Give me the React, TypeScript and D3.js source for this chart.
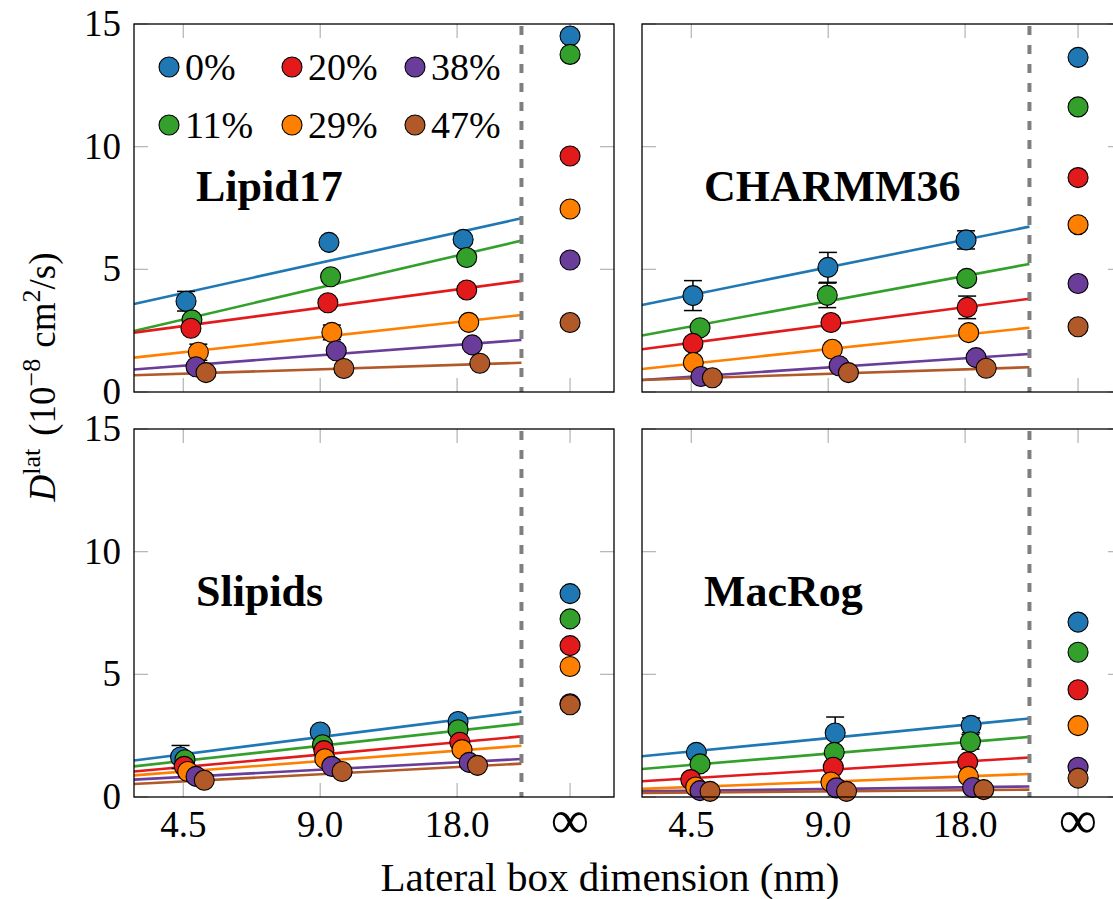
import React from 'react';
import * as d3 from 'd3';

// Cholesterol concentrations and their colours
const SERIES = ['0%', '11%', '20%', '29%', '38%', '47%'];
const COLORS = ['#1f78b4', '#33a02c', '#e31a1c', '#ff7f00', '#6a3d9a', '#b15928'];

// Box-size categories (position index on the x axis)
const BOX_LABELS = ['4.5', '9.0', '18.0', '\u221E'];
const BOX_POS = [1, 2, 3, 3.825];
const X_MIN = 0.64;
const X_MAX = 4.146;
const X_CUT = 3.47; // separator between finite boxes and the extrapolated value
const Y_TICKS = [0, 5, 10, 15];

// ---- Lipid17 ----
const lipid17X = [
  [1.02, 2.064, 3.044], [1.063, 2.076, 3.07], [1.056, 2.056, 3.07],
  [1.11, 2.085, 3.085], [1.093, 2.117, 3.11], [1.166, 2.173, 3.166],
];
const lipid17Y = [
  [3.7, 6.1, 6.22], [2.94, 4.7, 5.48], [2.6, 3.64, 4.16],
  [1.62, 2.43, 2.84], [1.03, 1.68, 1.92], [0.79, 0.96, 1.17],
];
const lipid17Err = [
  [0.4, 0, 0], [0, 0, 0], [0, 0, 0], [0.33, 0.3, 0], [0, 0, 0], [0, 0, 0],
];
const lipid17Inf = [14.51, 13.76, 9.62, 7.46, 5.38, 2.83];
const lipid17FitL = [3.59, 2.49, 2.42, 1.4, 0.92, 0.68];
const lipid17FitR = [7.08, 6.17, 4.53, 3.14, 2.12, 1.19];

// ---- CHARMM36 ----
const charmmX = [
  [1.012, 1.998, 3.007], [1.064, 1.993, 3.012], [1.012, 2.02, 3.015],
  [1.015, 2.03, 3.026], [1.07, 2.08, 3.08], [1.154, 2.148, 3.154],
];
const charmmY = [
  [3.93, 5.08, 6.2], [2.62, 3.94, 4.63], [1.98, 2.83, 3.45],
  [1.2, 1.74, 2.42], [0.63, 1.07, 1.4], [0.58, 0.79, 0.97],
];
const charmmErr = [
  [0.61, 0.61, 0.37], [0, 0.5, 0], [0, 0, 0.46], [0, 0, 0], [0, 0, 0], [0, 0, 0],
];
const charmmInf = [13.64, 11.62, 8.74, 6.82, 4.42, 2.66];
const charmmFitL = [3.55, 2.3, 1.74, 0.94, 0.49, 0.49];
const charmmFitR = [6.74, 5.22, 3.8, 2.62, 1.55, 1.01];

// ---- Slipids ----
const slipidsX = [
  [0.98, 2.0, 3.007], [1.012, 2.017, 3.007], [1.007, 2.027, 3.02],
  [1.032, 2.034, 3.036], [1.093, 2.085, 3.088], [1.153, 2.16, 3.149],
];
const slipidsY = [
  [1.63, 2.65, 3.08], [1.52, 2.13, 2.74], [1.25, 1.89, 2.23],
  [1.04, 1.56, 1.93], [0.84, 1.25, 1.41], [0.68, 1.04, 1.29],
];
const slipidsErr = [
  [0.47, 0, 0], [0, 0, 0], [0, 0, 0], [0, 0, 0], [0, 0, 0], [0, 0, 0],
];
const slipidsInf = [8.29, 7.26, 6.17, 5.32, 3.8, 3.76];
const slipidsFitL = [1.49, 1.25, 1.04, 0.88, 0.71, 0.53];
const slipidsFitR = [3.48, 2.99, 2.47, 2.09, 1.55, 1.36];

// ---- MacRog ----
const macrogX = [
  [1.037, 2.051, 3.044], [1.064, 2.044, 3.039], [0.996, 2.037, 3.019],
  [1.032, 2.02, 3.024], [1.064, 2.06, 3.055], [1.137, 2.134, 3.136],
];
const macrogY = [
  [1.82, 2.61, 2.92], [1.35, 1.82, 2.25], [0.71, 1.21, 1.43],
  [0.41, 0.61, 0.84], [0.26, 0.37, 0.39], [0.23, 0.23, 0.3],
];
const macrogErr = [
  [0, 0.65, 0.3], [0, 0, 0.3], [0, 0, 0], [0, 0, 0], [0, 0, 0], [0, 0, 0],
];
const macrogInf = [7.13, 5.9, 4.37, 2.91, 1.21, 0.77];
const macrogFitL = [1.66, 1.14, 0.64, 0.33, 0.23, 0.16];
const macrogFitR = [3.2, 2.45, 1.61, 0.94, 0.43, 0.3];

const SERIF = 'Liberation Serif';
const PW = 480;
const PH = 368;
const R = 10;

type PanelProps = {
  title: string;
  left: number;
  top: number;
  xs: number[][];
  ys: number[][];
  errs: number[][];
  inf: number[];
  fitL: number[];
  fitR: number[];
  legend?: boolean;
  yLabels?: boolean;
  xLabels?: boolean;
};

function Panel(p: PanelProps) {
  const x = d3.scaleLinear().domain([X_MIN, X_MAX]).range([p.left, p.left + PW]);
  const y = d3.scaleLinear().domain([0, 15]).range([p.top + PH, p.top]);
  const line = d3.line<[number, number]>().x((d) => x(d[0])).y((d) => y(d[1]));
  const tickCol = '#b3b3b3';
  const TL = 14;

  return (
    <g>
      {/* inward ticks */}
      {BOX_POS.map((b, i) => (
        <g key={'xt' + i} stroke={tickCol} strokeWidth={1.2}>
          <line x1={x(b)} x2={x(b)} y1={p.top} y2={p.top + TL} />
          <line x1={x(b)} x2={x(b)} y1={p.top + PH} y2={p.top + PH - TL} />
        </g>
      ))}
      {Y_TICKS.map((t, i) => (
        <g key={'yt' + i} stroke={tickCol} strokeWidth={1.2}>
          <line x1={p.left} x2={p.left + TL} y1={y(t)} y2={y(t)} />
          <line x1={p.left + PW} x2={p.left + PW - TL} y1={y(t)} y2={y(t)} />
        </g>
      ))}

      {/* fit lines */}
      {SERIES.map((s, i) => (
        <path
          key={'fit' + s}
          d={line([[X_MIN, p.fitL[i]], [X_CUT, p.fitR[i]]]) || ''}
          stroke={COLORS[i]}
          strokeWidth={2.6}
          fill="none"
        />
      ))}

      {/* separator */}
      <line
        x1={x(X_CUT)}
        x2={x(X_CUT)}
        y1={p.top + 2}
        y2={p.top + PH}
        stroke="#7f7f7f"
        strokeWidth={4}
        strokeDasharray="9,10"
      />

      {/* points with error bars */}
      {SERIES.map((s, i) => (
        <g key={'pts' + s}>
          {p.xs[i].map((xv, j) => {
            const e = p.errs[i][j];
            const cx = x(xv);
            return (
              <g key={j}>
                {e > 0 && (
                  <g stroke="#000" strokeWidth={1.5}>
                    <line x1={cx} x2={cx} y1={y(p.ys[i][j] - e)} y2={y(p.ys[i][j] + e)} />
                    <line x1={cx - 9} x2={cx + 9} y1={y(p.ys[i][j] - e)} y2={y(p.ys[i][j] - e)} />
                    <line x1={cx - 9} x2={cx + 9} y1={y(p.ys[i][j] + e)} y2={y(p.ys[i][j] + e)} />
                  </g>
                )}
                <circle cx={cx} cy={y(p.ys[i][j])} r={R} fill={COLORS[i]} stroke="#000" strokeWidth={1.1} />
              </g>
            );
          })}
          <circle cx={x(BOX_POS[3])} cy={y(p.inf[i])} r={R} fill={COLORS[i]} stroke="#000" strokeWidth={1.1} />
        </g>
      ))}

      {/* frame */}
      <rect x={p.left} y={p.top} width={PW} height={PH} fill="none" stroke="#000" strokeWidth={1.3} />

      {/* title */}
      <text x={p.left + 62} y={p.top + 177} fontFamily={SERIF} fontWeight="bold" fontSize={44}>
        {p.title}
      </text>

      {p.legend &&
        SERIES.map((s, i) => {
          const col = Math.floor(i / 2);
          const row = i % 2;
          const cx = p.left + 35 + col * 123;
          const cy = p.top + 43 + row * 58;
          return (
            <g key={'lg' + s}>
              <circle cx={cx} cy={cy} r={R} fill={COLORS[i]} stroke="#000" strokeWidth={1.1} />
              <text x={cx + 16} y={cy + 13} fontFamily={SERIF} fontSize={38}>
                {s}
              </text>
            </g>
          );
        })}

      {p.yLabels &&
        Y_TICKS.map((t) => (
          <text key={'yl' + t} x={p.left - 13} y={y(t) + 12} textAnchor="end" fontFamily={SERIF} fontSize={37}>
            {t}
          </text>
        ))}

      {p.xLabels &&
        BOX_LABELS.map((l, i) => (
          <text
            key={'xl' + l}
            x={x(BOX_POS[i])}
            y={i === 3 ? p.top + PH + 41 : p.top + PH + 40}
            textAnchor="middle"
            fontFamily={SERIF}
            fontSize={i === 3 ? 54 : 37}
          >
            {l}
          </text>
        ))}
    </g>
  );
}

export default function App() {
  return (
    <svg
      width={1113}
      height={899}
      style={{ position: 'absolute', left: 0, top: 0, background: '#fff' }}
    >
      <rect width={1113} height={899} fill="#fff" />
      <Panel title="Lipid17" left={134} top={24} xs={lipid17X} ys={lipid17Y} errs={lipid17Err}
        inf={lipid17Inf} fitL={lipid17FitL} fitR={lipid17FitR} legend yLabels />
      <Panel title="CHARMM36" left={642} top={24} xs={charmmX} ys={charmmY} errs={charmmErr}
        inf={charmmInf} fitL={charmmFitL} fitR={charmmFitR} />
      <Panel title="Slipids" left={134} top={429} xs={slipidsX} ys={slipidsY} errs={slipidsErr}
        inf={slipidsInf} fitL={slipidsFitL} fitR={slipidsFitR} yLabels xLabels />
      <Panel title="MacRog" left={642} top={429} xs={macrogX} ys={macrogY} errs={macrogErr}
        inf={macrogInf} fitL={macrogFitL} fitR={macrogFitR} xLabels />

      {/* y axis title */}
      <text
        transform="translate(55,377) rotate(-90)"
        textAnchor="middle"
        fontFamily={SERIF}
        fontSize={37}
      >
        <tspan fontStyle="italic">D</tspan>
        <tspan fontSize={26} dy={-15}>lat</tspan>
        <tspan dx={13} dy={15}>(10</tspan>
        <tspan fontSize={26} dy={-15}>{'\u22128'}</tspan>
        <tspan dx={11} dy={15}>cm</tspan>
        <tspan fontSize={26} dy={-15}>2</tspan>
        <tspan dy={15}>/s)</tspan>
      </text>

      {/* x axis title */}
      <text x={610} y={891} textAnchor="middle" fontFamily={SERIF} fontSize={41}>
        Lateral box dimension (nm)
      </text>
    </svg>
  );
}
